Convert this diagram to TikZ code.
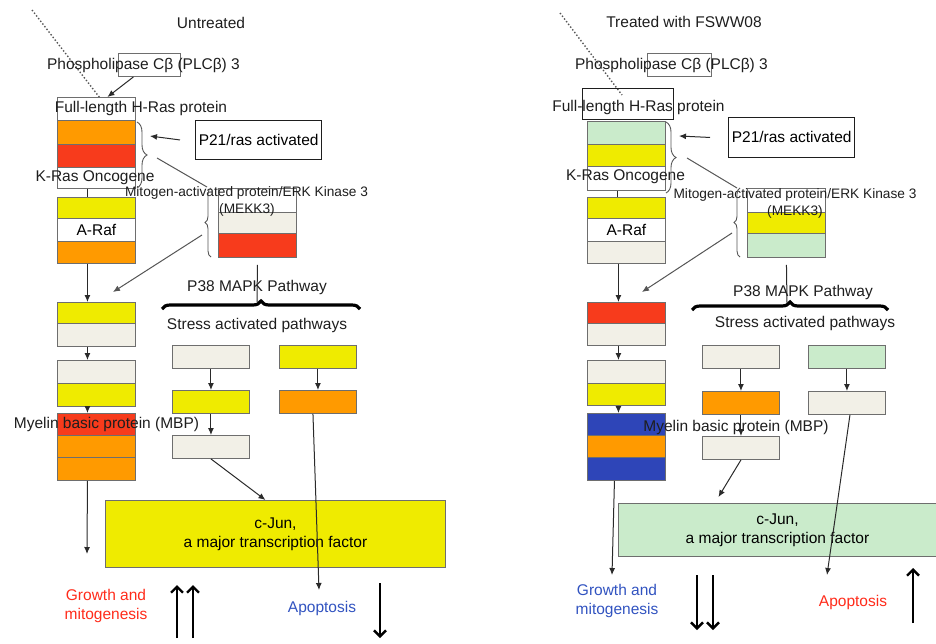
\documentclass[tikz,border=0pt]{standalone}
\usepackage{fontspec}
\setmainfont{Liberation Sans}
\usetikzlibrary{arrows.meta, decorations.pathreplacing}

\definecolor{rasorange}{HTML}{FF9A00}
\definecolor{rasred}{HTML}{F73B1C}
\definecolor{rasyellow}{HTML}{EFEB00}
\definecolor{rasbeige}{HTML}{F2F0E7}
\definecolor{rasgreen}{HTML}{CAEBCB}
\definecolor{rasblue}{HTML}{2E45B8}
\definecolor{boxgray}{HTML}{6E6E6E}
\definecolor{linegray}{HTML}{2A2A2A}
\definecolor{diaggray}{HTML}{555555}
\definecolor{textgray}{HTML}{1E1E1E}
\definecolor{upred}{HTML}{FF2B1A}
\definecolor{downblue}{HTML}{3153C0}

\begin{document}
\begin{tikzpicture}[x=1pt, y=-1pt,
    font=\fontsize{15.5pt}{19pt}\selectfont,
    band/.style={draw=boxgray, line width=0.9pt, minimum width=78pt, inner sep=0pt, anchor=north west},
    pbox/.style={draw=boxgray, line width=0.9pt, minimum width=77pt, minimum height=23pt, inner sep=0pt, anchor=north west},
    lbl/.style={inner sep=0pt, text=textgray},
    arr/.style={-{Latex[length=7pt,width=6pt]}, line width=1pt, draw=linegray},
    diag/.style={line width=1pt, draw=diaggray},
    bigarr/.style={-{Straight Barb[length=6pt,width=12pt]}, line width=2.4pt},
    brc/.style={decorate, decoration={brace, amplitude=#1}, draw=diaggray, line width=0.9pt},
    bigbrc/.style={decorate, decoration={brace, amplitude=8pt}, line width=3.2pt},
    dots/.style={dotted, draw=diaggray, line width=1.4pt}
  ]
  \useasboundingbox (0,0) rectangle (936,643);

  % ---------------- untreated ----------------
  \coordinate (LDotA) at (32,10);
  \coordinate (LDotB) at (100,98);
  \draw[dots] (LDotA) -- (LDotB);

  \node[lbl] (LTitle) at (211,23) {Untreated};
  \node[draw=boxgray, line width=0.9pt, minimum width=62pt, minimum height=23pt, anchor=north west] (LPlc) at (118,53) {};
  \node[lbl] (LPlcText) at (143.5,65) {Phospholipase Cβ (PLCβ) 3};

  \node[band, fill=white, minimum height=23pt] (LFull) at (57,97) {};
  \node[band, fill=rasorange, minimum height=24pt] (LRas1) at (57,120) {};
  \node[band, fill=rasred, minimum height=23pt] (LRas2) at (57,144) {};
  \node[band, fill=white, minimum height=21pt] (LRas3) at (57,167) {};
  \node[band, fill=rasyellow, minimum height=21pt] (LRaf1) at (57,197) {};
  \node[band, fill=white, minimum height=23pt] (LRaf2) at (57,218) {A-Raf};
  \node[band, fill=rasorange, minimum height=22pt] (LRaf3) at (57,241) {};
  \node[band, fill=rasyellow, minimum height=21pt] (LMid1) at (57,302) {};
  \node[band, fill=rasbeige, minimum height=23pt] (LMid2) at (57,323) {};
  \node[band, fill=rasbeige, minimum height=23pt] (LLow1) at (57,360) {};
  \node[band, fill=rasyellow, minimum height=23pt] (LLow2) at (57,383) {};
  \node[band, fill=rasred, minimum height=22pt] (LMbp1) at (57,413) {};
  \node[band, fill=rasorange, minimum height=22pt] (LMbp2) at (57,435) {};
  \node[band, fill=rasorange, minimum height=23pt] (LMbp3) at (57,457) {};

  \node[lbl] (LFullText) at (141,108) {Full-length H-Ras protein};
  \node[lbl] (LKras) at (95,178) {K-Ras Oncogene};
  \node[lbl] (LMbpText) at (106.5,424) {Myelin basic protein (MBP)};

  \node[draw=textgray, line width=0.9pt, minimum width=120pt, minimum height=39pt, anchor=north west] (LP21) at (195,120) {P21/ras activated};

  \node[band, fill=white, minimum height=24pt] (LMek1) at (218,188) {};
  \node[band, fill=rasbeige, minimum height=21pt] (LMek2) at (218,212) {};
  \node[band, fill=rasred, minimum height=24pt] (LMek3) at (218,233) {};
  \node[lbl, font=\fontsize{13.7pt}{16pt}\selectfont] (LMekText) at (246.5,193) {Mitogen-activated protein/ERK Kinase 3};
  \node[lbl, font=\fontsize{13.7pt}{16pt}\selectfont] (LMekAbbr) at (247,210) {(MEKK3)};

  \node[lbl] (LP38) at (257,287) {P38 MAPK Pathway};
  \node[lbl] (LStress) at (257,325) {Stress activated pathways};

  \node[pbox, fill=rasbeige] (LA1) at (172,345) {};
  \node[pbox, fill=rasyellow] (LB1) at (279,345) {};
  \node[pbox, fill=rasyellow] (LA2) at (172,390) {};
  \node[pbox, fill=rasorange] (LB2) at (279,390) {};
  \node[pbox, fill=rasbeige] (LA3) at (172,435) {};

  \node[draw=boxgray, line width=0.9pt, fill=rasyellow, minimum width=340pt, minimum height=67pt, anchor=north west, align=center] (LJun) at (105,500) {c-Jun,\\a major transcription factor};

  \node[lbl, text=upred, align=center] (LGrowth) at (106,606) {Growth and\\mitogenesis};
  \node[lbl, text=downblue] (LApo) at (322,608) {Apoptosis};

  % braces and links
  \coordinate (LBrcTop) at (137,122);
  \coordinate (LBrcBot) at (137,188);
  \coordinate (LBrcTip) at (157,158);
  \coordinate (LArrTip) at (150,136);
  \coordinate (LMekBrcTop) at (207,187);
  \coordinate (LMekBrcLow) at (202,235);
  \coordinate (LMidTip) at (113,292);
  \coordinate (LP38A) at (162,309);
  \coordinate (LP38B) at (360,309);
  \coordinate (LP38Tip) at (257,302);
  \coordinate (LGrowthTip) at (87,554);
  \coordinate (LApoTip) at (319,590);
  \draw[brc=10pt] (LBrcTop) -- (LBrcBot);
  \draw[brc=6pt] (211,257) -- (211,188);
  \draw[bigbrc] (LP38A) -- (LP38B);

  \draw[arr] ([xshift=-16pt]LPlc.south) -- ([xshift=11pt]LFull.north);
  \draw[arr] ([xshift=-15pt]LP21.west) -- (LArrTip);
  \draw[diag] (LBrcTip) -- (LMekBrcTop);
  \draw[diag, -{Latex[length=7pt,width=6pt]}] (LMekBrcLow) -- (LMidTip);
  \draw[linegray, line width=1pt] ([xshift=-9pt]LRas3.south) -- ([xshift=-9pt]LRaf1.north);
  \draw[arr] ([xshift=-9pt]LRaf3.south) -- ([xshift=-9pt]LMid1.north);
  \draw[arr] ([xshift=-9pt]LMid2.south) -- ([xshift=-9pt]LLow1.north);
  \draw[arr] ([xshift=-9pt]LLow2.south) -- ([xshift=-9pt]LMbp1.north);
  \draw[arr] ([xshift=-9pt]LMbp3.south) -- (LGrowthTip);
  \draw[linegray, line width=1pt] ([yshift=-7pt]LMek3.south) -- (LP38Tip);
  \draw[arr] (LA1) -- (LA2);
  \draw[arr] (LA2) -- (LA3);
  \draw[arr] (LB1) -- (LB2);
  \draw[arr] (LA3.south) -- ([xshift=-10pt]LJun.north);
  \draw[arr] ([xshift=-5pt]LB2.south) -- (LApoTip);

  \coordinate (LUpA0) at (177,638);
  \coordinate (LUpA1) at (177,585);
  \coordinate (LUpB0) at (193,638);
  \coordinate (LUpB1) at (193,585);
  \coordinate (LDown0) at (380,583);
  \coordinate (LDown1) at (380,638);
  \draw[bigarr] (LUpA0) -- (LUpA1);
  \draw[bigarr] (LUpB0) -- (LUpB1);
  \draw[bigarr] (LDown0) -- (LDown1);

  % ---------------- treated ----------------
  \coordinate (RDotA) at (560,13);
  \coordinate (RDotB) at (622,95);

  \node[lbl] (RTitle) at (684,22) {Treated with FSWW08};
  \node[draw=boxgray, line width=0.9pt, minimum width=64pt, minimum height=23pt, anchor=north west] (RPlc) at (647,53) {};
  \node[lbl] (RPlcText) at (671.5,65) {Phospholipase Cβ (PLCβ) 3};

  \node[draw=textgray, line width=0.9pt, fill=white, minimum width=91pt, minimum height=31pt, anchor=north west] (RFull) at (582,88) {};
  \draw[dots] (RDotA) -- (RDotB);
  \node[band, fill=rasgreen, minimum height=23pt] (RRas1) at (587,121) {};
  \node[band, fill=rasyellow, minimum height=22pt] (RRas2) at (587,144) {};
  \node[band, fill=white, minimum height=24pt] (RRas3) at (587,166) {};
  \node[band, fill=rasyellow, minimum height=21pt] (RRaf1) at (587,197) {};
  \node[band, fill=white, minimum height=23pt] (RRaf2) at (587,218) {A-Raf};
  \node[band, fill=rasbeige, minimum height=22pt] (RRaf3) at (587,241) {};
  \node[band, fill=rasred, minimum height=21pt] (RMid1) at (587,302) {};
  \node[band, fill=rasbeige, minimum height=22pt] (RMid2) at (587,323) {};
  \node[band, fill=rasbeige, minimum height=23pt] (RLow1) at (587,360) {};
  \node[band, fill=rasyellow, minimum height=22pt] (RLow2) at (587,383) {};
  \node[band, fill=rasblue, minimum height=22pt] (RMbp1) at (587,413) {};
  \node[band, fill=rasorange, minimum height=22pt] (RMbp2) at (587,435) {};
  \node[band, fill=rasblue, minimum height=23pt] (RMbp3) at (587,457) {};

  \node[lbl] (RFullText) at (638.5,107) {Full-length H-Ras protein};
  \node[lbl] (RKras) at (625.5,177) {K-Ras Oncogene};

  \node[draw=textgray, line width=0.9pt, minimum width=124pt, minimum height=40pt, anchor=north west] (RP21) at (728,117) {P21/ras activated};

  \node[band, fill=white, minimum height=24pt] (RMek1) at (747,188) {};
  \node[band, fill=rasyellow, minimum height=21pt] (RMek2) at (747,212) {};
  \node[band, fill=rasgreen, minimum height=24pt] (RMek3) at (747,233) {};
  \node[lbl, font=\fontsize{13.7pt}{16pt}\selectfont] (RMekText) at (795,195) {Mitogen-activated protein/ERK Kinase 3};
  \node[lbl, font=\fontsize{13.7pt}{16pt}\selectfont] (RMekAbbr) at (795,212) {(MEKK3)};

  \node[lbl] (RP38) at (803,292) {P38 MAPK Pathway};
  \node[lbl] (RStress) at (805,323) {Stress activated pathways};

  \node[pbox, fill=rasbeige] (RA1) at (702,345) {};
  \node[pbox, fill=rasgreen] (RB1) at (808,345) {};
  \node[pbox, fill=rasorange] (RA2) at (702,391) {};
  \node[pbox, fill=rasbeige] (RB2) at (808,391) {};
  \node[pbox, fill=rasbeige] (RA3) at (702,436) {};

  \node[lbl] (RMbpText) at (736,427) {Myelin basic protein (MBP)};

  \node[draw=boxgray, line width=0.9pt, fill=rasgreen, minimum width=318pt, minimum height=53pt, anchor=north west, align=center] (RJun) at (618,503) {c-Jun,\\a major transcription factor};

  \node[lbl, text=downblue, align=center] (RGrowth) at (617,601) {Growth and\\mitogenesis};
  \node[lbl, text=upred] (RApo) at (853,602) {Apoptosis};

  % braces and links
  \coordinate (RBrcTop) at (666,122);
  \coordinate (RBrcBot) at (666,193);
  \coordinate (RBrcTip) at (687,158);
  \coordinate (RArrTip) at (679,136);
  \coordinate (RMekBrcTop) at (737,188);
  \coordinate (RMekBrcLow) at (732,233);
  \coordinate (RMidTip) at (642,292);
  \coordinate (RP38A) at (692,310);
  \coordinate (RP38B) at (888,310);
  \coordinate (RP38Tip) at (787,303);
  \coordinate (RGrowthTip) at (612,575);
  \coordinate (RApoTip) at (827,575);
  \draw[brc=10pt] (RBrcTop) -- (RBrcBot);
  \draw[brc=6pt] (740,257) -- (740,188);
  \draw[bigbrc] (RP38A) -- (RP38B);

  \draw[arr] ([xshift=-18pt]RP21.west) -- (RArrTip);
  \draw[diag] (RBrcTip) -- (RMekBrcTop);
  \draw[diag, -{Latex[length=7pt,width=6pt]}] (RMekBrcLow) -- (RMidTip);
  \draw[linegray, line width=1pt] ([xshift=-9pt]RRas3.south) -- ([xshift=-9pt]RRaf1.north);
  \draw[arr] ([xshift=-8pt]RRaf3.south) -- ([xshift=-8pt]RMid1.north);
  \draw[arr] ([xshift=-8pt]RMid2.south) -- ([xshift=-8pt]RLow1.north);
  \draw[arr] ([xshift=-8pt]RLow2.south) -- ([xshift=-8pt]RMbp1.north);
  \draw[arr] ([xshift=-12pt]RMbp3.south) -- (RGrowthTip);
  \draw[linegray, line width=1pt] ([yshift=-7pt]RMek3.south) -- (RP38Tip);
  \draw[arr] (RA1) -- (RA2);
  \draw[arr] (RA2) -- (RA3);
  \draw[arr] (RB1) -- (RB2);
  \draw[arr] (RA3.south) -- ([xshift=-59pt,yshift=6pt]RJun.north);
  \draw[arr] ([xshift=3pt]RB2.south) -- (RApoTip);

  \coordinate (RDownA0) at (697,575);
  \coordinate (RDownA1) at (697,630);
  \coordinate (RDownB0) at (713,575);
  \coordinate (RDownB1) at (713,630);
  \coordinate (RUp0) at (913,623);
  \coordinate (RUp1) at (913,568);
  \draw[bigarr] (RDownA0) -- (RDownA1);
  \draw[bigarr] (RDownB0) -- (RDownB1);
  \draw[bigarr] (RUp0) -- (RUp1);
\end{tikzpicture}
\end{document}
